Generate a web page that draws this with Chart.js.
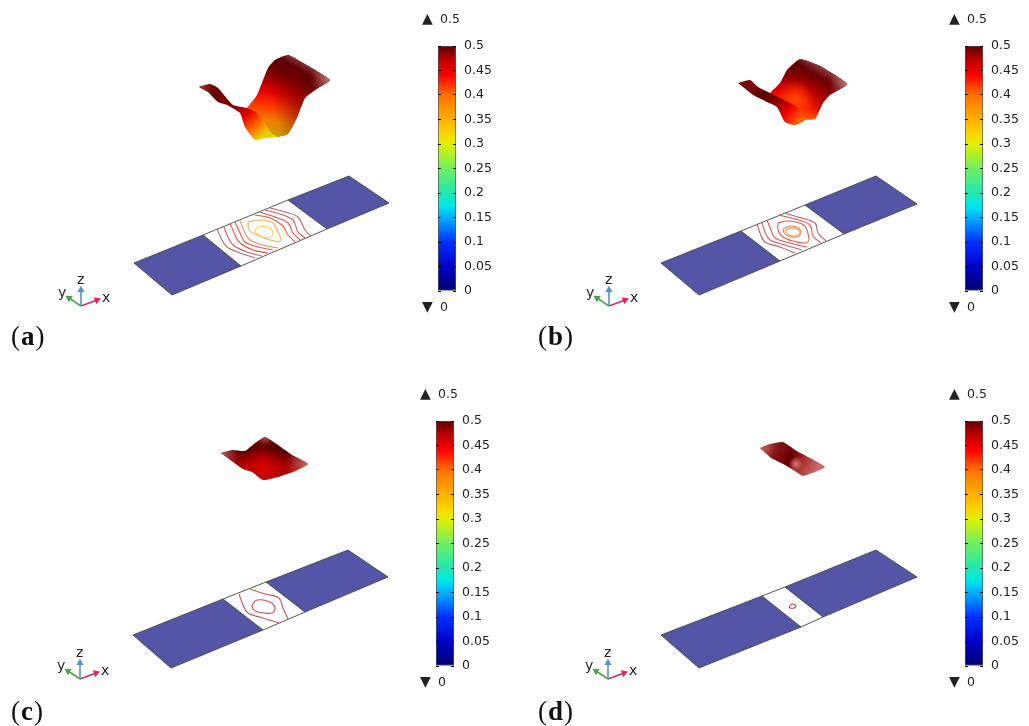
<!DOCTYPE html>
<html>
<head>
<meta charset="utf-8">
<title>Surface and contour panels</title>
<script src="https://cdn.jsdelivr.net/npm/chart.js@4/dist/chart.umd.min.js"></script>
<style>
body { margin: 0; background: #fff; width: 1029px; height: 726px; overflow: hidden; position: relative; }
canvas { position: absolute; }
.lbl { position: absolute; font-family: "DejaVu Sans", sans-serif; color: #222; white-space: nowrap; transform: translateY(-50%); }
.panel { position: absolute; font-family: "Liberation Serif", serif; font-size: 27px; letter-spacing: 1px; color: #111; transform: translateY(-50%); }
</style>
</head>
<body>
<canvas id="scene" width="1029" height="726" style="left:0;top:0"></canvas>
<script>
var plateA = { left: [[134,263],[203,235],[241,266],[172,295],[134,263]], mid: [[203,235],[288,200],[327,229],[241,266],[203,235]], right: [[288,200],[349,176],[389,203],[327,229],[288,200]] };
var plateB = { left: [[661,263],[741,231],[780,261],[699,295],[661,263]], mid: [[741,231],[805,205],[844,234],[780,261],[741,231]], right: [[805,205],[876,176],[917,204],[844,234],[805,205]] };
var plateC = { left: [[133,635],[223,599],[263,630],[171,668],[133,635]], mid: [[223,599],[266,582],[305,612],[263,630],[223,599]], right: [[266,582],[348,550],[388,577],[305,612],[266,582]] };
var plateD = { left: [[661,635],[762,596],[801,627],[699,668],[661,635]], mid: [[762,596],[785,587],[823,617],[801,627],[762,596]], right: [[785,587],[876,550],[917,577],[823,617],[785,587]] };

var backA = [[247,108],[257,95],[268,68],[275,60],[288,55],[303,63],[330,80],[318,88],[305,98],[297,118],[288,134],[277,137],[270,132],[258,113]];
var foldA = [[199,87],[210,84],[218,88],[233,105],[247,108],[258,113],[270,132],[277,137],[265,138],[255,140],[245,127],[240,113],[227,105],[218,102],[208,92]];
var backB = [[770,93],[780,83],[787,70],[800,59],[820,66],[847,84],[830,95],[823,103],[815,119],[805,120],[795,125],[787,123],[780,112]];
var foldB = [[738,83],[750,80],[758,87],[770,93],[780,98],[797,107],[805,120],[795,125],[785,122],[777,107],[767,102],[753,95]];
var sheetC = [[221,453],[232,450],[245,451],[255,443],[265,437],[278,445],[292,455],[308,464],[293,472],[278,477],[263,480],[252,472],[243,469],[233,462]];
var sheetD = [[760,448],[770,444],[783,442],[795,450],[808,457],[825,467],[803,476],[795,471],[783,464],[771,458]];

var contoursA = [
  [[217,229],[222,240],[227,247],[240,253],[255,258]],
  [[224,227],[228,237],[233,245],[247,252],[262,256]],
  [[230,223],[235,235],[240,243],[253,250],[268,253]],
  [[235,222],[240,233],[245,242],[258,247],[273,250]],
  [[240,221],[245,233],[250,240],[263,245],[278,248]],
  [[270,208],[285,212],[298,217],[305,230],[311,236]],
  [[265,210],[280,214],[293,220],[298,232],[305,238]],
  [[260,212],[275,217],[288,223],[293,233],[300,240]],
  [[255,215],[270,218],[283,226],[288,235],[295,242]],
  [[248,222],[260,220],[273,223],[277,230],[281,241],[270,240],[257,235],[249,230],[248,222]],
  [[255,230],[258,227],[268,227],[273,232],[271,237],[262,237],[256,233],[255,230]]
];
var contoursB = [
  [[757,224],[760,233],[765,242],[780,247],[795,253]],
  [[762,223],[765,232],[770,240],[785,245],[802,250]],
  [[767,220],[771,230],[775,238],[790,243],[807,247]],
  [[783,213],[798,217],[815,223],[818,233],[826,241]],
  [[778,215],[795,219],[810,225],[813,236],[821,243]],
  [[778,223],[787,221],[802,224],[807,230],[808,242],[797,242],[783,237],[778,230],[778,223]],
  [[783,229],[790,226],[798,228],[801,233],[797,237],[788,236],[784,233],[783,229]],
  [[785,231],[790,228],[797,229],[800,233],[796,236],[789,235],[785,231]]
];
var contoursC = [
  [[239,594],[243,605],[248,613],[263,618],[279,623]],
  [[250,589],[265,594],[279,598],[283,608],[288,619]],
  [[252,605],[257,600],[270,602],[275,608],[272,613],[258,612],[253,609],[252,605]]
];
var contoursD = [
  [[789,607],[792,604],[796,606],[794,608],[790,608],[789,607]]
];
var contourColorsA = ["#b86a6a","#dc5a5a","#e85050","#ec5a4a","#f08a50","#b86a6a","#dc5a5a","#e85050","#ec5a4a","#f4b050","#f6d450"];
var contourColorsB = ["#c06060","#dc5a5a","#e85050","#c06060","#dc5a5a","#ec5a4a","#f08050","#f4a050"];
var contourColorsC = ["#c85a5a","#c85a5a","#cc4a4a"];
var contourColorsD = ["#c04040"];

var triadOrigins = [[81,306],[609,306],[80,679],[608,679]];
var triadX = [16,-6];
var triadY = [-12,-8];
var triadZ = [0,-16];

var colorbarTicks = [0,0.05,0.1,0.15,0.2,0.25,0.3,0.35,0.4,0.45,0.5];
var colorbarRange = [[0,0.5]];
var colorbarValues = [0,0.05,0.1,0.15,0.175,0.2,0.25,0.3,0.325,0.4,0.44,0.47,0.5];
var colorbarColors = ["#00006e","#0000c8","#0030ff","#00b0ff","#00e8e8","#20e8b0","#70f060","#e0f000","#ffd000","#ff7000","#ff0000","#c00000","#600000"];
var colorbarLefts = [438,965,436,965];
var colorbarTops = [46,46,421,421];
var rangeMax = "0.5";
var rangeMin = "0";
var panelNames = ["a","b","c","d"];

function pts(a) { return a.map(function (p) { return {x: p[0], y: p[1]}; }); }

// gradient described in scale values, turned into pixels through the scales
function paint(style) {
    return function (ctx) {
        var chart = ctx.chart;
        if (!chart.chartArea) return style.stops[0][1];
        var sx = chart.scales.x, sy = chart.scales.y, g;
        if (style.linear) {
            var l = style.linear;
            g = chart.ctx.createLinearGradient(sx.getPixelForValue(l[0]), sy.getPixelForValue(l[1]), sx.getPixelForValue(l[2]), sy.getPixelForValue(l[3]));
        } else {
            var r = style.radial;
            g = chart.ctx.createRadialGradient(sx.getPixelForValue(r[0]), sy.getPixelForValue(r[1]), 0, sx.getPixelForValue(r[0]), sy.getPixelForValue(r[1]), r[2]);
        }
        style.stops.forEach(function (s) { g.addColorStop(s[0], s[1]); });
        return g;
    };
}

var datasets = [];
function shape(points, fillStyle, border) {
    datasets.push({
        data: pts(points), showLine: true, pointRadius: 0, tension: border ? 0 : 0.15,
        fill: "shape", backgroundColor: typeof fillStyle === "string" ? fillStyle : paint(fillStyle),
        borderColor: border || "rgba(0,0,0,0)", borderWidth: border ? 0.9 : 0
    });
}
function stroke(points, color, width, tension) {
    datasets.push({data: pts(points), showLine: true, pointRadius: 0, fill: false, borderColor: color, borderWidth: width, tension: tension});
}

// surfaces
shape(backA, {linear:[282,56,272,138], stops:[[0,"#500000"],[0.22,"#800000"],[0.45,"#e80000"],[0.62,"#ff3800"],[0.8,"#f08000"],[1,"#c8a000"]]});
shape(backA, {linear:[272,100,318,90], stops:[[0,"rgba(90,0,0,0)"],[1,"rgba(90,0,0,0.95)"]]});
shape(backA, {linear:[309,66,305,73], stops:[[0,"rgba(190,110,110,0.45)"],[1,"rgba(190,110,110,0)"]]});
shape(backA, {radial:[330,80,20], stops:[[0,"rgba(195,120,120,0.9)"],[1,"rgba(195,120,120,0)"]]});
shape(foldA, {linear:[215,88,258,140], stops:[[0,"#600000"],[0.4,"#8a0000"],[0.6,"#e00000"],[0.8,"#ff6000"],[1,"#e8d000"]]});
shape(foldA, {radial:[200,87,16], stops:[[0,"rgba(170,50,50,0.9)"],[1,"rgba(170,50,50,0)"]]});

shape(backB, {linear:[800,60,795,125], stops:[[0,"#500000"],[0.25,"#880000"],[0.5,"#e80000"],[0.75,"#ff2000"],[0.92,"#ff6a00"],[1,"#f09000"]]});
shape(backB, {radial:[795,100,20], stops:[[0,"rgba(255,90,0,0.8)"],[1,"rgba(255,90,0,0)"]]});
shape(backB, {linear:[805,100,840,88], stops:[[0,"rgba(90,0,0,0)"],[1,"rgba(90,0,0,0.95)"]]});
shape(backB, {linear:[824,70,820,77], stops:[[0,"rgba(190,110,110,0.45)"],[1,"rgba(190,110,110,0)"]]});
shape(backB, {radial:[847,84,18], stops:[[0,"rgba(195,120,120,0.9)"],[1,"rgba(195,120,120,0)"]]});
shape(foldB, {linear:[755,85,798,122], stops:[[0,"#7a0a0a"],[0.25,"#5a0000"],[0.5,"#900000"],[0.75,"#f00000"],[1,"#ff6000"]]});

shape(sheetC, {linear:[265,437,263,480], stops:[[0,"#700000"],[0.3,"#5a0000"],[0.7,"#b00000"],[1,"#a01010"]]});
shape(sheetC, {radial:[263,467,22], stops:[[0,"rgba(225,0,0,0.9)"],[1,"rgba(225,0,0,0)"]]});
shape(sheetC, {radial:[221,453,18], stops:[[0,"rgba(190,110,110,0.85)"],[1,"rgba(190,110,110,0)"]]});
shape(sheetC, {radial:[308,464,22], stops:[[0,"rgba(200,120,120,0.9)"],[1,"rgba(200,120,120,0)"]]});
shape(sheetC, {radial:[265,437,9], stops:[[0,"rgba(190,110,110,0.7)"],[1,"rgba(190,110,110,0)"]]});

shape(sheetD, {linear:[765,447,815,472], stops:[[0,"#a83a3a"],[0.25,"#801010"],[0.5,"#6a0000"],[0.72,"#a83030"],[1,"#c86868"]]});
shape(sheetD, {radial:[760,448,14], stops:[[0,"rgba(190,100,100,0.85)"],[1,"rgba(190,100,100,0)"]]});
shape(sheetD, {radial:[796,464,7], stops:[[0,"rgba(225,130,130,0.9)"],[1,"rgba(225,130,130,0)"]]});

// plates and contours
[plateA, plateB, plateC, plateD].forEach(function (p) {
    shape(p.left, "#5555a8", "#444");
    shape(p.right, "#5555a8", "#444");
    shape(p.mid, "#ffffff", "#444");
});
[[contoursA,contourColorsA],[contoursB,contourColorsB],[contoursC,contourColorsC],[contoursD,contourColorsD]].forEach(function (c) {
    c[0].forEach(function (line, i) { stroke(line, c[1][i], 1.1, 0.35); });
});

// axis triads, the arrow head is the last point of each arm
triadOrigins.forEach(function (o) {
    [[triadX,"#e0266a",70],[triadY,"#4ea24e",303],[triadZ,"#5b8fc7",0]].forEach(function (arm) {
        datasets.push({
            data: pts([o, [o[0] + arm[0][0], o[1] + arm[0][1]]]), showLine: true, fill: false,
            borderColor: arm[1], borderWidth: 1.6, backgroundColor: arm[1],
            pointStyle: "triangle", pointRadius: [0, 4.2], pointRotation: arm[2], pointBorderWidth: 0
        });
    });
});

new Chart("scene", {
    type: "scatter",
    data: {datasets: datasets.reverse()},
    options: {
        responsive: false, animation: false, devicePixelRatio: 1,
        layout: {padding: 0, autoPadding: false},
        plugins: {legend: {display: false}, tooltip: {enabled: false}},
        scales: {
            x: {type: "linear", display: false, min: 0, max: 1029},
            y: {type: "linear", display: false, min: 0, max: 726, reverse: true}
        }
    }
});

// colour bars
colorbarLefts.forEach(function (left, n) {
    var top = colorbarTops[n];
    var c = document.createElement("canvas");
    c.id = "bar" + n;
    c.width = 70; c.height = 265;
    c.style.left = left + "px";
    c.style.top = (top - 10) + "px";
    document.body.appendChild(c);
    new Chart(c, {
        type: "bar",
        data: {labels: [""], datasets: [{
            data: colorbarRange, barPercentage: 1, categoryPercentage: 1,
            borderColor: "#555", borderWidth: 1, borderSkipped: false,
            backgroundColor: function (ctx) {
                var chart = ctx.chart;
                if (!chart.chartArea) return "#000";
                var s = chart.scales.y;
                var g = chart.ctx.createLinearGradient(0, s.getPixelForValue(0), 0, s.getPixelForValue(0.5));
                colorbarValues.forEach(function (v, i) { g.addColorStop(v / 0.5, colorbarColors[i]); });
                return g;
            }
        }]},
        options: {
            responsive: false, animation: false, devicePixelRatio: 1,
            layout: {padding: {top: 10, bottom: 10}, autoPadding: false},
            plugins: {legend: {display: false}, tooltip: {enabled: false}},
            scales: {
                x: {display: false},
                y: {
                    position: "right", min: 0, max: 0.5,
                    afterBuildTicks: function (axis) { axis.ticks = colorbarTicks.map(function (v) { return {value: v}; }); },
                    afterFit: function (axis) { axis.width = 52; axis.paddingTop = 0; axis.paddingBottom = 0; },
                    grid: {color: "#000", z: 1, drawTicks: false, lineWidth: 1},
                    border: {display: false, dash: [3, 12, 3]},
                    ticks: {
                        padding: 8, color: "#222", font: {family: "DejaVu Sans", size: 12.5},
                        callback: function (v) { return String(v); }
                    }
                }
            }
        }
    });
});

// real text labels
function label(text, x, y, size, cls) {
    var s = document.createElement("span");
    s.className = cls || "lbl";
    s.innerHTML = text;
    s.style.left = x + "px";
    s.style.top = y + "px";
    if (size) s.style.fontSize = size + "px";
    document.body.appendChild(s);
}
triadOrigins.forEach(function (o) {
    label("x", o[0] + 21, o[1] - 9, 14);
    label("y", o[0] - 23, o[1] - 14, 14);
    label("z", o[0] - 4, o[1] - 27, 14);
});
colorbarLefts.forEach(function (left, n) {
    var top = colorbarTops[n];
    label("\u25B2", left - 16, top - 28, 14);
    label(rangeMax, left + 2, top - 28, 12.5);
    label("\u25BC", left - 16, top + 260, 14);
    label(rangeMin, left + 2, top + 260, 12.5);
});
panelNames.forEach(function (name, n) {
    label("(<b>" + name + "</b>)", n % 2 ? 538 : 11, n < 2 ? 336 : 711, 27, "panel");
});
</script>
</body>
</html>
